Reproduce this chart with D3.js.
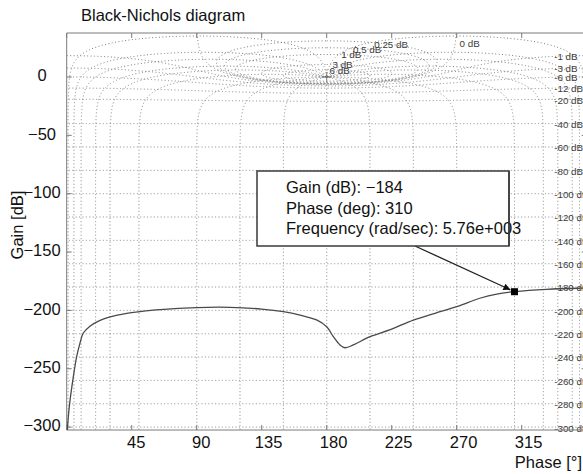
<!DOCTYPE html>
<html><head><meta charset="utf-8">
<script src="https://cdn.jsdelivr.net/npm/d3@7"></script>
<style>
html,body{margin:0;padding:0;background:#fff;}
svg{display:block;font-family:"Liberation Sans",Arial,Helvetica,sans-serif;}
</style></head><body>
<svg id="chart" width="583" height="474"></svg>
<script>
// ---- data ----
const chartTitle = "Black-Nichols diagram";
const phaseTicks = [45, 90, 135, 180, 225, 270, 315];
const gainTicks = [0, -50, -100, -150, -200, -250, -300];

// open-loop response (phase in degrees, gain in dB)
const respPhase = [0.3, 1.8, 4.6, 6.9, 9.2, 11.5, 16.1, 23.1, 30, 41.5, 50.8, 64.6, 90, 113, 135, 150, 161.5, 173, 180, 184.6, 189.2, 192.7, 198.4, 210, 224, 240, 255, 270, 286, 297.7, 310, 332.3, 355.4, 360];
const respGain  = [-304, -282.5, -256.8, -239.7, -228, -219.4, -213.5, -208.5, -205.5, -202.5, -201, -199.3, -197.6, -197.4, -198.9, -201.1, -204, -208.2, -214, -222.5, -229.6, -232, -229.6, -222.5, -216.5, -208.3, -202.5, -196.8, -189.6, -186, -184, -182, -181, -180.9];

// data tip
const tipPhase = 310;
const tipGain = -184;
const tipFreq = "5.76e+003";

// Nichols grid: closed-loop gain (dB) and closed-loop phase (deg) contours
const mGrid = [6, 3, 1, 0.5, 0.25, 0, -1, -3, -6, -12, -20, -40, -60, -80, -100, -120, -140, -160, -180, -200, -220, -240, -260, -280, -300];
const nGrid = [-1, -5, -10, -20, -30, -50, -90, -120, -150, -180, -210, -240, -270, -310, -330, -340, -350, -355, -359];

// ---- layout ----
const svg = d3.select("#chart");
const X0 = 66.7, X1 = 586.7, Y0 = 33, Y1 = 430;
const x = d3.scaleLinear().domain([0, 360]).range([X0, X1]);
const y = d3.scaleLinear().domain([-302.5, 37.7]).range([Y1, Y0]);
const axisColor = "#7a7a7a";
const gridColor = "#7d7d7d";
const fontSize = 16.5;

svg.append("defs").append("clipPath").attr("id", "plotClip")
  .append("rect").attr("x", X0).attr("y", Y0).attr("width", X1 - X0).attr("height", Y1 - Y0);

// complex helper: G = T / (1 - T)
function openLoop(mag, angDeg) {
  const a = angDeg * Math.PI / 180;
  const tr = mag * Math.cos(a), ti = mag * Math.sin(a);
  const dr = 1 - tr, di = -ti;
  const den = dr * dr + di * di;
  const gr = (tr * dr + ti * di) / den;
  const gi = (ti * dr - tr * di) / den;
  return { dB: 10 * Math.log10(gr * gr + gi * gi), ph: Math.atan2(gi, gr) * 180 / Math.PI };
}
function unwrapTo(ph, ref) {
  while (ph - ref > 180) ph -= 360;
  while (ph - ref < -180) ph += 360;
  return ph;
}

// closed-loop gain contour
function mContour(mdb) {
  const M = Math.pow(10, mdb / 20);
  const pts = [];
  const n = 3000;
  let ref = M < 1 ? 360 : (M > 1 ? 180 : 270);
  for (let i = 0; i <= n; i++) {
    let th;
    if (M === 1) th = -0.02 - 359.96 * i / n;
    else th = -360 * i / n;
    const g = openLoop(M, th);
    const p = unwrapTo(g.ph, ref);
    ref = p;
    pts.push([p, g.dB]);
  }
  return pts;
}
// closed-loop phase contour
function nContour(phi) {
  const pts = [];
  let ref = phi + 360;
  for (let k = -340; k <= 340; k += 0.05) {
    const g = openLoop(Math.pow(10, k / 20), phi);
    const p = unwrapTo(g.ph, ref);
    ref = p;
    pts.push([p, g.dB]);
  }
  return pts;
}

const line = d3.line().x(d => x(d[0])).y(d => y(Math.max(-400, Math.min(200, d[1]))));
const gridG = svg.append("g").attr("clip-path", "url(#plotClip)")
  .attr("fill", "none").attr("stroke", gridColor).attr("stroke-width", 1)
  .attr("stroke-dasharray", "1,2.4");

mGrid.forEach(m => gridG.append("path").attr("d", line(mContour(m))));
nGrid.forEach(p => gridG.append("path").attr("d", line(nContour(p))));

// critical point marker
const cx = x(180), cy = y(0);
svg.append("path").attr("d", `M${cx - 5},${cy}H${cx + 5}M${cx},${cy - 5}V${cy + 5}`)
  .attr("stroke", "#808080").attr("stroke-width", 1);

// contour labels
const labelFont = 9.8;
const labG = svg.append("g").attr("font-size", labelFont).attr("fill", "#3c3c3c");
const posLabelPhase = { 6: 189, 3: 191, 1: 197, 0.5: 208, 0.25: 224.6 };
mGrid.forEach(m => {
  const txt = String(m) + " dB";
  if (m > 0) {
    const pts = mContour(m);
    const target = posLabelPhase[m];
    // topmost crossing of the loop at the label phase
    let best = null;
    pts.forEach(d => { if (Math.abs(d[0] - target) < 0.4 && (!best || d[1] > best[1])) best = d; });
    labG.append("text").attr("x", x(target)).attr("y", y(best[1]))
      .attr("text-anchor", "middle").attr("dy", "0.35em").text(txt);
  } else if (m === 0) {
    labG.append("text").attr("x", x(272)).attr("y", y(28.3)).attr("dy", "0.35em").text(txt);
  } else {
    const M = Math.pow(10, m / 20);
    const g = 20 * Math.log10(M / (1 - M));
    labG.append("text").attr("x", x(337.5)).attr("y", y(g) + 1).attr("dy", "0.35em").text(txt);
  }
});

// axes frame
const frame = svg.append("g").attr("stroke", axisColor).attr("stroke-width", 1).attr("fill", "none");
frame.append("path").attr("d", `M${X0},${Y0}H${X1}V${Y1}H${X0}Z`);
phaseTicks.concat([0, 360]).forEach(t => {
  frame.append("path").attr("d", `M${x(t)},${Y1}v-5M${x(t)},${Y0}v5`);
});
gainTicks.forEach(t => {
  frame.append("path").attr("d", `M${X0},${y(t)}h5M${X1},${y(t)}h-5`);
});

// tick labels
const tickG = svg.append("g").attr("font-size", fontSize).attr("fill", "#111");
phaseTicks.forEach(t => {
  const el = tickG.append("text").attr("y", 448).text(String(t));
  const w = el.node().getComputedTextLength();
  el.attr("x", x(t) - 0.25 * w);
});
gainTicks.forEach(t => {
  tickG.append("text").attr("x", 42).attr("y", y(t) - 1.5)
    .attr("text-anchor", "middle").attr("dy", "0.35em")
    .text(t < 0 ? "\u2212" + Math.abs(t) : String(t));
});

// titles
svg.append("text").attr("x", 81).attr("y", 21).attr("font-size", fontSize).attr("fill", "#111").text(chartTitle);
svg.append("text").attr("transform", "translate(23,225) rotate(-90)").attr("text-anchor", "middle")
  .attr("font-size", fontSize).attr("fill", "#111").text("Gain [dB]");
svg.append("text").attr("x", 582).attr("y", 468).attr("text-anchor", "end")
  .attr("font-size", fontSize).attr("fill", "#111").text("Phase [\u00b0]");

// response curve
svg.append("path").attr("clip-path", "url(#plotClip)")
  .attr("d", d3.line().x((d, i) => x(respPhase[i])).y((d, i) => y(respGain[i]))
    .curve(d3.curveCatmullRom.alpha(0.5))(respPhase))
  .attr("fill", "none").attr("stroke", "#4a4a4a").attr("stroke-width", 1.3);

// data tip
const mx = x(tipPhase), my = y(tipGain);
svg.append("defs").append("marker").attr("id", "arrowHead")
  .attr("viewBox", "0 0 10 10").attr("refX", 10).attr("refY", 5)
  .attr("markerWidth", 10).attr("markerHeight", 7).attr("markerUnits", "userSpaceOnUse")
  .attr("orient", "auto")
  .append("path").attr("d", "M0,0L10,5L0,10Z").attr("fill", "#111");

const boxX = 257, boxY = 171, boxW = 252, boxH = 75;
const sx = 415, sy = boxY + boxH;
const dx = mx - sx, dy = my - sy, len = Math.hypot(dx, dy);
svg.append("line").attr("x1", sx).attr("y1", sy)
  .attr("x2", mx - dx / len * 4.5).attr("y2", my - dy / len * 4.5)
  .attr("stroke", "#222").attr("stroke-width", 1.3).attr("marker-end", "url(#arrowHead)");

svg.append("rect").attr("x", mx - 3.5).attr("y", my - 3.5).attr("width", 7).attr("height", 7).attr("fill", "#000");

svg.append("rect").attr("x", boxX).attr("y", boxY).attr("width", boxW).attr("height", boxH)
  .attr("fill", "#fff").attr("stroke", "#3a3a3a").attr("stroke-width", 1.5);
const tipLines = [
  "Gain (dB): " + (tipGain < 0 ? "\u2212" + Math.abs(tipGain) : tipGain),
  "Phase (deg): " + tipPhase,
  "Frequency (rad/sec): " + tipFreq
];
const tipG = svg.append("g").attr("font-size", fontSize).attr("fill", "#111");
tipLines.forEach((s, i) => tipG.append("text").attr("x", 286).attr("y", 193 + i * 20.7).text(s));
// right border of the box is drawn over the text
svg.append("line").attr("x1", boxX + boxW).attr("x2", boxX + boxW).attr("y1", boxY).attr("y2", boxY + boxH)
  .attr("stroke", "#3a3a3a").attr("stroke-width", 1.5);
</script>
</body></html>
